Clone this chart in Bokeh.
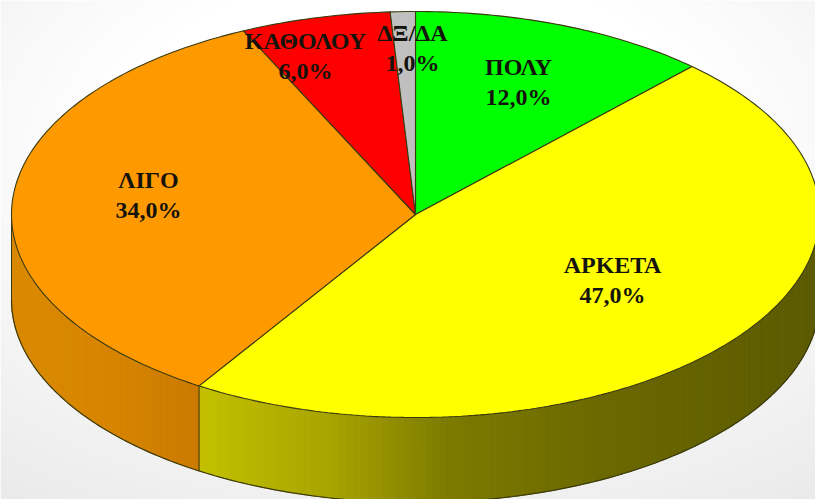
import numpy as np
from bokeh.embed import file_html
from bokeh.models import ColumnDataSource, Range1d
from bokeh.plotting import figure
from bokeh.resources import INLINE
from bokeh.core.properties import value

categories = ["ΠΟΛΥ", "ΑΡΚΕΤΑ", "ΛΙΓΟ", "ΚΑΘΟΛΟΥ", "ΔΞ/ΔΑ"]
values = [12.0, 47.0, 34.0, 6.0, 1.0]
colors = ["#00ff00", "#ffff00", "#ff9900", "#ff0000", "#c0c0c0"]
label_x = [518, 612, 148, 305, 412]
label_y = [66, 264, 179, 40, 32]
wall_stops = {
    "ΑΡΚΕΤΑ": [(200, (196, 192, 0)), (330, (168, 164, 0)), (450, (125, 122, 0)), (600, (108, 105, 0)), (819, (92, 90, 0))],
    "ΛΙΓΟ": [(11, (218, 138, 0)), (100, (216, 134, 0)), (200, (204, 122, 0))],
}

W, H = 815, 499
CX, CY, A, B, DEPTH = 415, 214, 404, 203, 85

p = figure(width=W, height=H, output_backend="svg", toolbar_location=None,
           x_range=Range1d(0, W), y_range=Range1d(H, 0),
           min_border=0, outline_line_color=None, background_fill_color="white")
p.axis.visible = False
p.grid.visible = False

# soft page background: white centre fading to pale grey towards the lower corners
ys, xs = np.mgrid[0:H // 4, 0:W // 4]
d = np.sqrt(((xs * 4 - 407) / 560.0) ** 2 + ((ys * 4 - 150) / 340.0) ** 2)
g = np.clip(255 - np.clip(d - 0.55, 0, 1) * 30, 0, 255).astype(np.uint32)
img = (255 << 24) | (g << 16) | (g << 8) | g
p.image_rgba(image=[img], x=0, y=0, dw=W, dh=H)

def ex(t):
    return CX + A * np.sin(t)

def ey(t):
    return CY - B * np.cos(t)

edges = np.radians(np.cumsum([0.0] + values) * 3.6)
EDGE = "#3a3a10"

# wall: thin strips, each one coloured along x
sx, sy, sc = [], [], []
for i, c in enumerate(categories):
    if c not in wall_stops:
        continue
    lo = max(edges[i], np.pi / 2)
    hi = min(edges[i + 1], 3 * np.pi / 2)
    stops = wall_stops[c]
    ts = np.linspace(lo, hi, 121)
    for t0, t1 in zip(ts[:-1], ts[1:]):
        tt = np.linspace(t0, t1, 3)
        x = ex(tt)
        y = ey(tt)
        sx.append(list(x) + list(x[::-1]))
        sy.append(list(y) + list((y + DEPTH)[::-1]))
        xm = x.mean()
        rgb = [np.interp(xm, [s[0] for s in stops], [s[1][k] for s in stops]) for k in range(3)]
        sc.append("#%02x%02x%02x" % tuple(int(v) for v in rgb))
p.patches(sx, sy, fill_color=sc, line_color=sc, line_width=1)

# wall outlines
tw = np.linspace(np.pi / 2, 3 * np.pi / 2, 240)
p.line(ex(tw), ey(tw) + DEPTH, line_color=EDGE, line_width=1.2)
for t in (np.pi / 2, 3 * np.pi / 2):
    p.line([ex(t), ex(t)], [ey(t), ey(t) + DEPTH], line_color=EDGE, line_width=1)
split = edges[2]
p.line([ex(split), ex(split)], [ey(split), ey(split) + DEPTH], line_color=EDGE, line_width=1)

# top face
px, py = [], []
for i in range(len(values)):
    tt = np.linspace(edges[i], edges[i + 1], max(3, int(values[i] * 4)))
    px.append([CX] + list(ex(tt)))
    py.append([CY] + list(ey(tt)))
p.patches(px, py, fill_color=colors, line_color=EDGE, line_width=1.1)

# labels
for c, v, x, y in zip(categories, values, label_x, label_y):
    pct = f"{v:.1f}".replace(".", ",") + "%"
    src = ColumnDataSource(dict(x=[x, x], y=[y, y + 30], t=[c, pct]))
    p.text("x", "y", "t", source=src, text_align="center", text_baseline="middle",
           text_font=value("Liberation Serif"), text_font_style="bold",
           text_font_size="24px", text_color="#14140c")

open("out.html", "w").write(file_html(p, INLINE))
